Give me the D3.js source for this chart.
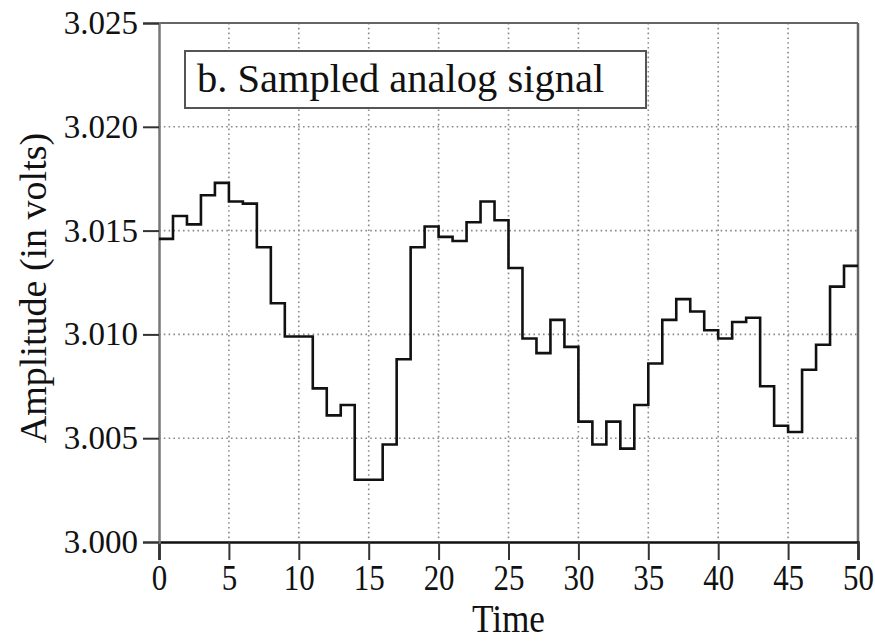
<!DOCTYPE html>
<html>
<head>
<meta charset="utf-8">
<script src="https://cdn.jsdelivr.net/npm/d3@7/dist/d3.min.js"></script>
<style>
  html, body { margin: 0; padding: 0; background: #fff; }
  svg { display: block; }
  text { font-family: "Liberation Serif", "Times New Roman", serif; fill: #111; }
</style>
</head>
<body>
<svg id="chart" width="875" height="642"></svg>
<script>
// ---- data ----
const sampleTimes = d3.range(0, 50);
const amplitudes = [
  3.0146, 3.0157, 3.0153, 3.0167, 3.0173, 3.0164, 3.0163, 3.0142, 3.0115, 3.0099,
  3.0099, 3.0074, 3.0061, 3.0066, 3.0030, 3.0030, 3.0047, 3.0088, 3.0142, 3.0152,
  3.0147, 3.0145, 3.0154, 3.0164, 3.0155, 3.0132, 3.0098, 3.0091, 3.0107, 3.0094,
  3.0058, 3.0047, 3.0058, 3.0045, 3.0066, 3.0086, 3.0107, 3.0117, 3.0111, 3.0102,
  3.0098, 3.0106, 3.0108, 3.0075, 3.0056, 3.0053, 3.0083, 3.0095, 3.0123, 3.0133
];
const xTicks = [0, 5, 10, 15, 20, 25, 30, 35, 40, 45, 50];
const yTicks = [3.000, 3.005, 3.010, 3.015, 3.020, 3.025];
const xDomain = [0, 50];
const yDomain = [3.000, 3.025];
const titleText = "b. Sampled analog signal";
const xTitle = "Time";
const yTitle = "Amplitude (in volts)";

// ---- layout ----
const svg = d3.select("#chart");
const L = 159, R = 858, T = 23, B = 542;
const x = d3.scaleLinear().domain(xDomain).range([L, R]);
const y = d3.scaleLinear().domain(yDomain).range([B, T]);

// grid
const grid = svg.append("g").attr("stroke", "#8a8a8a").attr("stroke-width", 1.6)
  .attr("stroke-dasharray", "1.6,3.2");
grid.selectAll("line.v").data(xTicks.filter(d => d > xDomain[0] && d < xDomain[1]))
  .join("line").attr("class", "v")
  .attr("x1", d => x(d)).attr("x2", d => x(d)).attr("y1", T).attr("y2", B);
grid.selectAll("line.h").data(yTicks.filter(d => d > yDomain[0] && d < yDomain[1]))
  .join("line").attr("class", "h")
  .attr("x1", L).attr("x2", R).attr("y1", d => y(d)).attr("y2", d => y(d));

// frame (top and right)
svg.append("line").attr("x1", L).attr("x2", R).attr("y1", T).attr("y2", T)
  .attr("stroke", "#666").attr("stroke-width", 2);
svg.append("line").attr("x1", R).attr("x2", R).attr("y1", T).attr("y2", B)
  .attr("stroke", "#666").attr("stroke-width", 2.5);

// axes
const yAxis = svg.append("g").attr("transform", `translate(${L},0)`)
  .call(d3.axisLeft(y).tickValues(yTicks).tickFormat(d3.format(".3f")).tickSize(16).tickPadding(5));
yAxis.select(".domain").attr("stroke", "#777").attr("stroke-width", 2.5);
yAxis.selectAll(".tick line").attr("stroke", "#333").attr("stroke-width", 2);
yAxis.selectAll(".tick text").attr("font-size", 33)
  .style("font-family", '"Liberation Serif", serif').attr("fill", "#111");

const xAxis = svg.append("g").attr("transform", `translate(0,${B})`)
  .call(d3.axisBottom(x).tickValues(xTicks).tickFormat(d3.format("d")).tickSize(18).tickPadding(4));
xAxis.select(".domain").attr("stroke", "#111").attr("stroke-width", 2.5);
xAxis.selectAll(".tick line").attr("stroke", "#333").attr("stroke-width", 2);
xAxis.selectAll(".tick text").attr("font-size", 36)
  .style("font-family", '"Liberation Serif", serif').attr("fill", "#111")
  .attr("transform", "scale(0.86,1)");
yAxis.raise();

// step line
const pts = sampleTimes.map((t, i) => [t, amplitudes[i]]);
pts.push([xDomain[1], amplitudes[amplitudes.length - 1]]);
const line = d3.line().x(d => x(d[0])).y(d => y(d[1])).curve(d3.curveStepAfter);
svg.append("path").datum(pts).attr("d", line)
  .attr("fill", "none").attr("stroke", "#111").attr("stroke-width", 2.6)
  .attr("stroke-linejoin", "miter");

// label box
svg.append("rect").attr("x", 185).attr("y", 51).attr("width", 461).attr("height", 57)
  .attr("fill", "#fff").attr("stroke", "#555").attr("stroke-width", 2);
svg.append("text").attr("x", 197).attr("y", 92).attr("font-size", 40.5).text(titleText);

// axis titles
svg.append("text").attr("x", (L + R) / 2).attr("y", 632).attr("text-anchor", "middle")
  .attr("font-size", 40).attr("transform", `translate(${(L + R) / 2},0) scale(0.88,1) translate(${-(L + R) / 2},0)`)
  .text(xTitle);
svg.append("text").attr("transform", "translate(46,288) rotate(-90)")
  .attr("text-anchor", "middle").attr("font-size", 38).text(yTitle);
</script>
</body>
</html>
